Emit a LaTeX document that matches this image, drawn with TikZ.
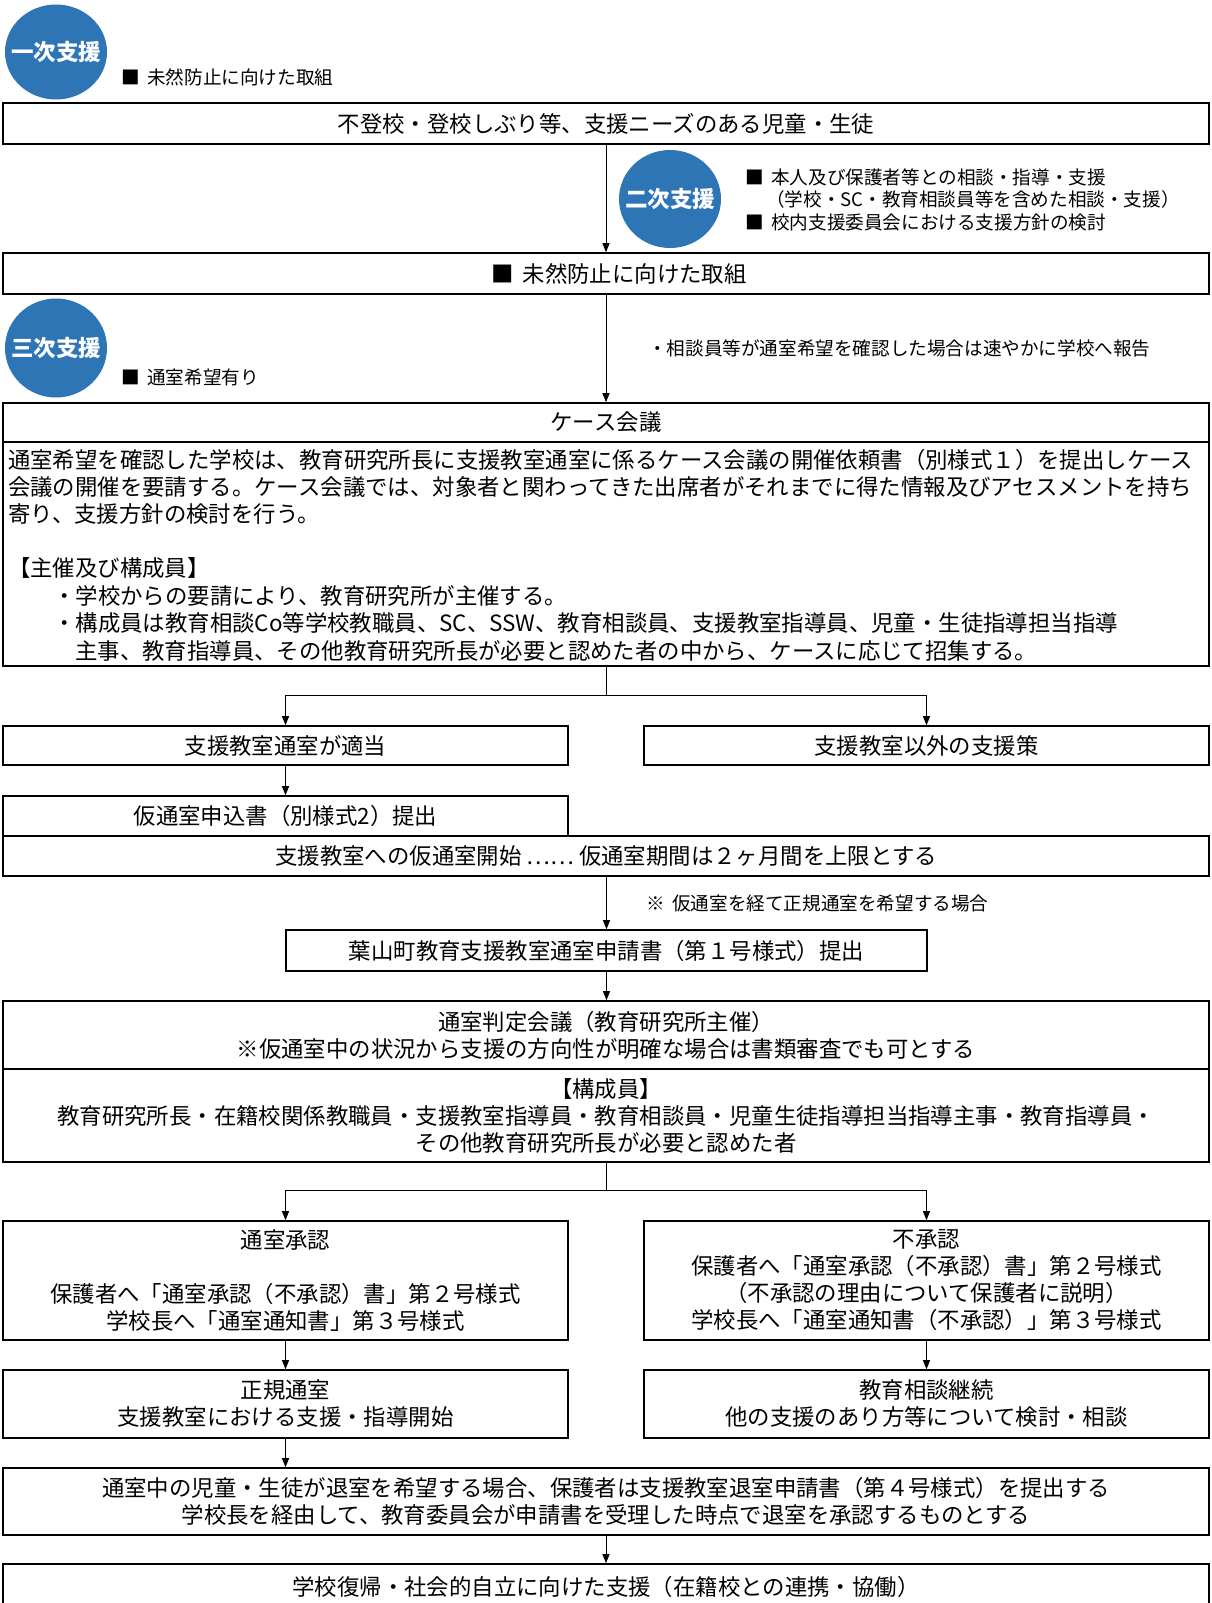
\documentclass[tikz,border=0pt]{standalone}
\usepackage{fontspec}
\setmainfont{Noto Sans CJK JP}
\usetikzlibrary{arrows.meta,shapes.geometric}
\definecolor{circblue}{HTML}{2E75B6}
\newcommand\mainf{\fontsize{22.4}{27}\selectfont}
\newcommand\smallf{\fontsize{18.6}{22.5}\selectfont}
\newcommand\sq{■\hspace{0.4em}}
\tikzset{
  box/.style={draw=black, line width=1.6pt, inner sep=0pt, align=center, font=\mainf},
  circ/.style={ellipse, fill=circblue, inner sep=0pt},
  circtext/.style={inner sep=0pt, text=white, font=\fontsize{22.5}{27}\selectfont\bfseries},
  stxt/.style={anchor=west, inner sep=0pt, font=\smallf},
  btxt/.style={anchor=west, inner sep=0pt, font=\mainf},
  conn/.style={line width=1pt},
  arr/.style={line width=1pt, -{Triangle[length=9pt,width=7pt]}}
}
\begin{document}
\begin{tikzpicture}[x=1pt,y=-1pt]
\useasboundingbox (0,0) rectangle (1212,1603);
% circles
\node[circ, minimum width=102, minimum height=95] (c1) at (56,52) {};
\node[circtext] (c1t) at (c1.center) {一次支援};
\node[circ, minimum width=102, minimum height=98] (c2) at (670,199) {};
\node[circtext] (c2t) at (c2.center) {二次支援};
\node[circ, minimum width=102, minimum height=99] (c3) at (56,348) {};
\node[circtext] (c3t) at (c3.center) {三次支援};
% small texts
\node[stxt] (t1) at (121,77) {\sq 未然防止に向けた取組};
\node[stxt] (t2a) at (745,177) {\sq 本人及び保護者等との相談・指導・支援};
\node[stxt] (t2b) at (766,199) {（学校・SC・教育相談員等を含めた相談・支援）};
\node[stxt] (t2c) at (745,222) {\sq 校内支援委員会における支援方針の検討};
\node[stxt] (t3) at (121,377) {\sq 通室希望有り};
\node[stxt] (t4) at (648,348) {・相談員等が通室希望を確認した場合は速やかに学校へ報告};
\node[stxt] (t5) at (646,903) {※\hspace{0.4em}仮通室を経て正規通室を希望する場合};
% boxes
\node[box, minimum width=1206, minimum height=41] (b1) at (606,123.5) {不登校・登校しぶり等、支援ニーズのある児童・生徒};
\node[box, minimum width=1206, minimum height=41] (b2) at (606,273.5) {\hspace*{26pt}\sq 未然防止に向けた取組};
\node[box, minimum width=1206, minimum height=39] (b3h) at (606,422.5) {ケース会議};
\node[box, minimum width=1206, minimum height=224] (b3b) at (606,554) {};
\node[btxt] (l1) at (8,460) {通室希望を確認した学校は、教育研究所長に支援教室通室に係るケース会議の開催依頼書（別様式１）を提出しケース};
\node[btxt] (l2) at (8,487) {会議の開催を要請する。ケース会議では、対象者と関わってきた出席者がそれまでに得た情報及びアセスメントを持ち};
\node[btxt] (l3) at (8,514) {寄り、支援方針の検討を行う。};
\node[btxt] (l4) at (8,568) {【主催及び構成員】};
\node[btxt] (l5) at (53,596) {・学校からの要請により、教育研究所が主催する。};
\node[btxt] (l6) at (53,623) {・構成員は教育相談Co等学校教職員、SC、SSW、教育相談員、支援教室指導員、児童・生徒指導担当指導};
\node[btxt] (l7) at (75,651) {主事、教育指導員、その他教育研究所長が必要と認めた者の中から、ケースに応じて招集する。};
\node[box, minimum width=565, minimum height=39] (b4L) at (285.5,745.5) {支援教室通室が適当};
\node[box, minimum width=565, minimum height=39] (b4R) at (926.5,745.5) {支援教室以外の支援策};
\node[box, minimum width=565, minimum height=40] (b5) at (285.5,816) {仮通室申込書（別様式2）提出};
\node[box, minimum width=1206, minimum height=40] (b6) at (606,856) {支援教室への仮通室開始 …… 仮通室期間は２ヶ月間を上限とする};
\node[box, minimum width=641, minimum height=41] (b7) at (606.5,950.5) {葉山町教育支援教室通室申請書（第１号様式）提出};
\node[box, minimum width=1206, minimum height=68] (b8) at (606,1035) {通室判定会議（教育研究所主催）\\※仮通室中の状況から支援の方向性が明確な場合は書類審査でも可とする};
\node[box, minimum width=1206, minimum height=93] (b9) at (606,1115.5) {【構成員】\\教育研究所長・在籍校関係教職員・支援教室指導員・教育相談員・児童生徒指導担当指導主事・教育指導員・\\その他教育研究所長が必要と認めた者};
\node[box, minimum width=565, minimum height=119] (b10L) at (285.5,1280.5) {通室承認\\\mbox{}\\保護者へ「通室承認（不承認）書」第２号様式\\学校長へ「通室通知書」第３号様式};
\node[box, minimum width=565, minimum height=119] (b10R) at (926.5,1280.5) {不承認\\保護者へ「通室承認（不承認）書」第２号様式\\（不承認の理由について保護者に説明）\\学校長へ「通室通知書（不承認）」第３号様式};
\node[box, minimum width=565, minimum height=68] (b11L) at (285.5,1404) {正規通室\\支援教室における支援・指導開始};
\node[box, minimum width=565, minimum height=68] (b11R) at (926.5,1404) {教育相談継続\\他の支援のあり方等について検討・相談};
\node[box, minimum width=1206, minimum height=67] (b12) at (606,1501.5) {通室中の児童・生徒が退室を希望する場合、保護者は支援教室退室申請書（第４号様式）を提出する\\学校長を経由して、教育委員会が申請書を受理した時点で退室を承認するものとする};
\node[box, minimum width=1206, minimum height=46] (b13) at (606,1587) {学校復帰・社会的自立に向けた支援（在籍校との連携・協働）};
% connectors
\draw[arr] (b1.south) -- (b2.north);
\draw[arr] (b2.south) -- (b3h.north);
\draw[conn] (b3b.south) -- ++(0,29) coordinate (s1);
\draw[arr] (s1) -| (b4L.north);
\draw[arr] (s1) -| (b4R.north);
\draw[arr] (b4L.south) -- (b5.north);
\draw[arr] (b6.south -| b7.north) -- (b7.north);
\draw[arr] (b7.south) -- (b7.south |- b8.north);
\draw[conn] (b9.south) -- ++(0,28) coordinate (s2);
\draw[arr] (s2) -| (b10L.north);
\draw[arr] (s2) -| (b10R.north);
\draw[arr] (b10L.south) -- (b11L.north);
\draw[arr] (b10R.south) -- (b11R.north);
\draw[arr] (b11L.south) -- (b11L.south |- b12.north);
\draw[arr] (b12.south) -- (b13.north);
\end{tikzpicture}
\end{document}
